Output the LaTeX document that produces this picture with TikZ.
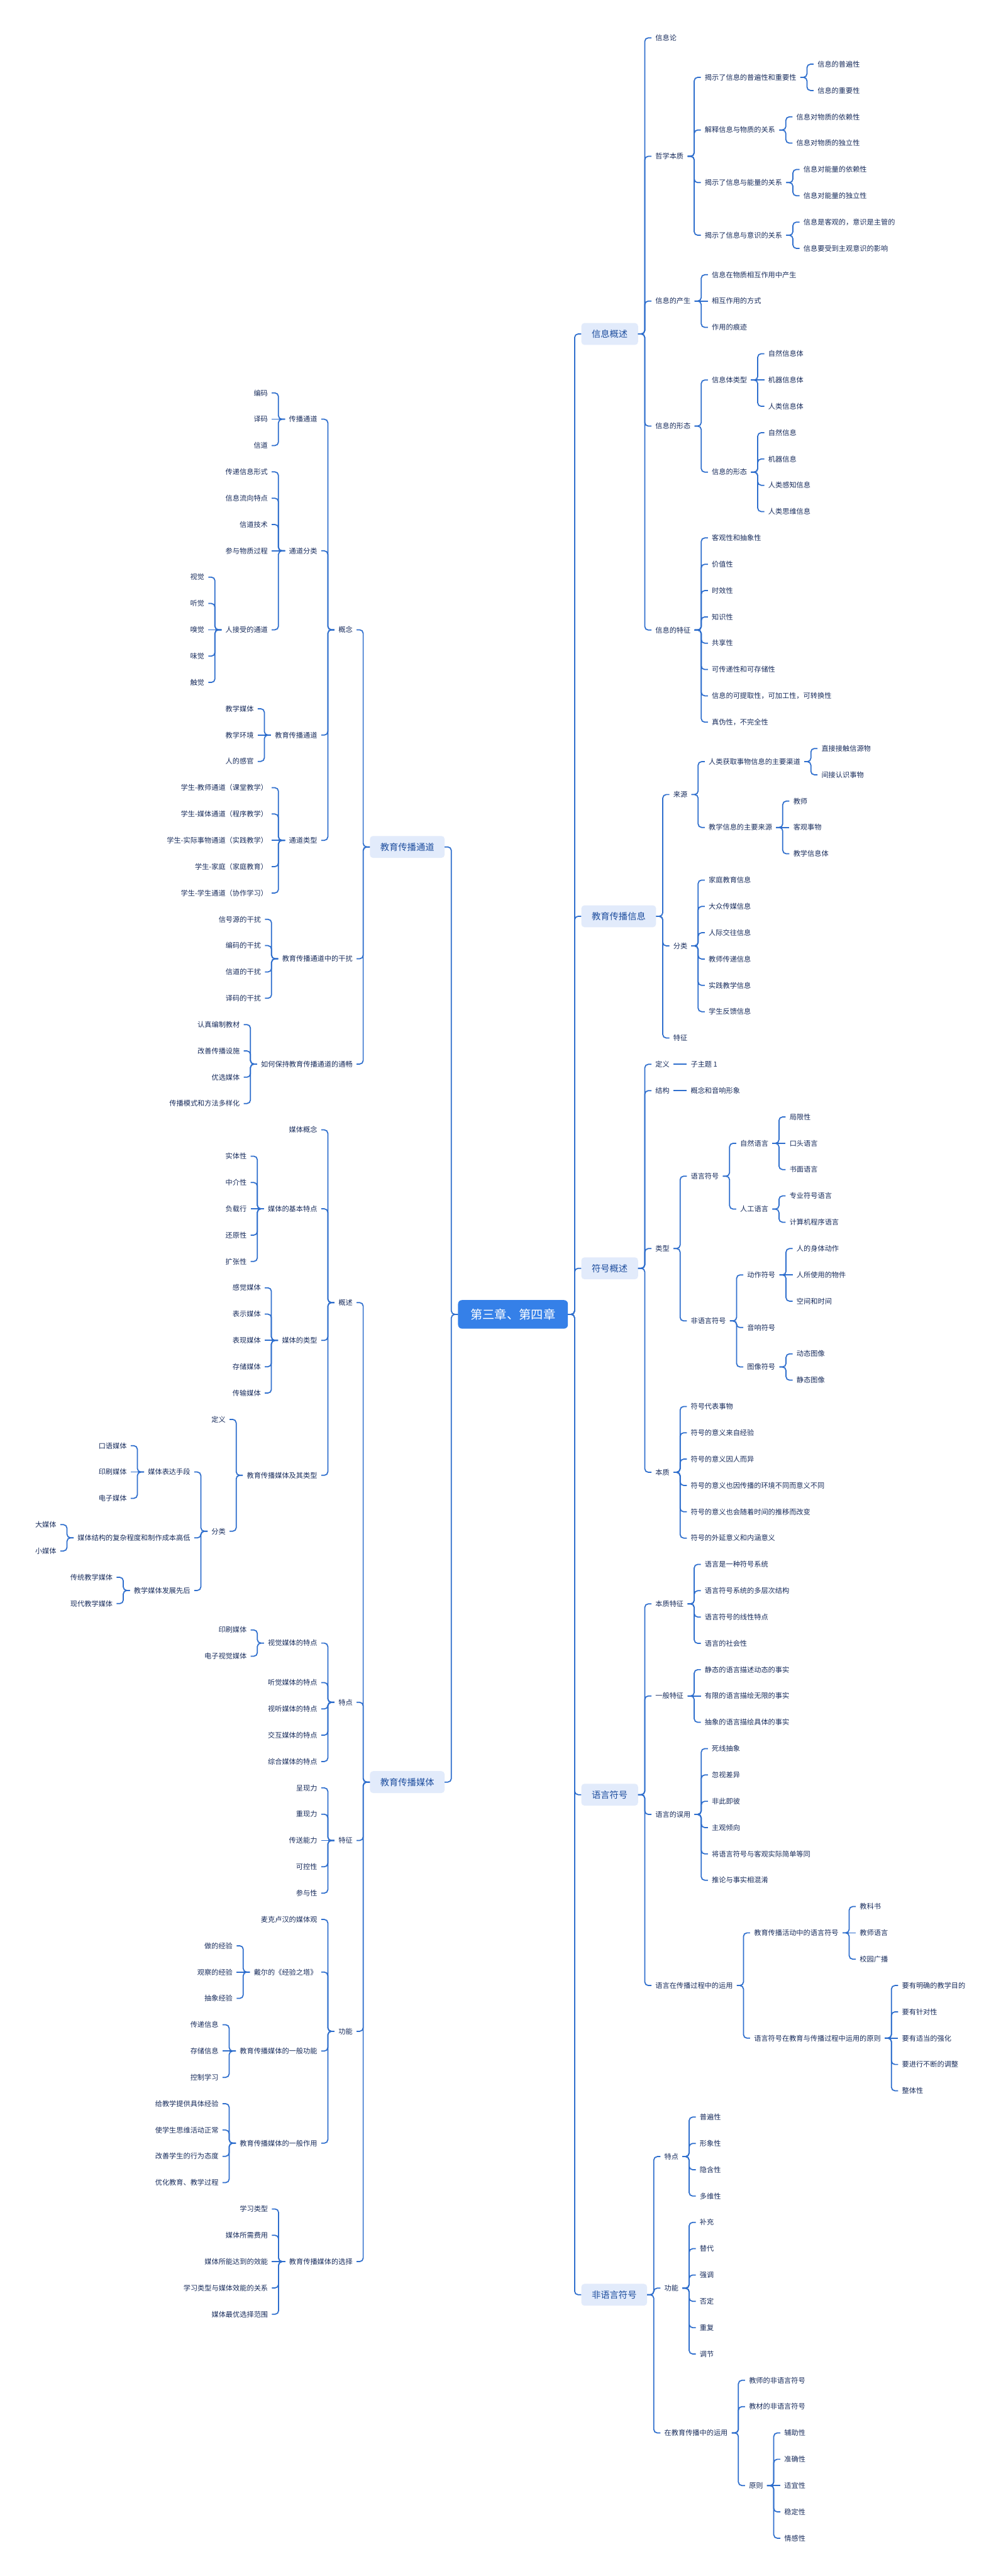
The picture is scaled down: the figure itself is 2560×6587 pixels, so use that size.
\documentclass[tikz,border=0pt]{standalone}
\usepackage{fontspec}
\setmainfont{Noto Sans CJK SC}
\usetikzlibrary{calc}
\definecolor{linkblue}{RGB}{46,110,205}
\definecolor{rootblue}{RGB}{53,128,232}
\definecolor{mainfill}{RGB}{226,235,251}
\definecolor{maintext}{RGB}{30,78,158}
\definecolor{leaftext}{RGB}{24,44,92}

% row positions (one row per leaf)
\newcommand\yr[1]{-(96.8+67.3*(#1))*1pt}
\newcommand\yl[1]{-(1004.7+67.3*(#1))*1pt}
% branch to the right / to the left of its parent
\newcommand\rb[5][leaf]{%
  \path let \p1=(#3.east) in node[#1, anchor=west] (#2) at (\x1+34pt, {\yr{#4}}) {#5};
  \draw[link] let \p1=(#3.east), \p2=(#2.west), \n1={min(9,abs((\y2)-(\y1))/2)} in
    [rounded corners=\n1] (\p1) -- ++(17pt,0pt) |- (\p2);}
\newcommand\lb[5][leaf]{%
  \path let \p1=(#3.west) in node[#1, anchor=east] (#2) at (\x1-34pt, {\yl{#4}}) {#5};
  \draw[link] let \p1=(#3.west), \p2=(#2.east), \n1={min(9,abs((\y2)-(\y1))/2)} in
    [rounded corners=\n1] (\p1) -- ++(-17pt,0pt) |- (\p2);}
% a run of leaves on consecutive rows
\newcommand\rleaves[3]{\foreach \nm [count=\idx from 0] in {#3} {\rb{#1-\idx}{#1}{#2+\idx}{\nm}}}
\newcommand\lleaves[3]{\foreach \nm [count=\idx from 0] in {#3} {\lb{#1-\idx}{#1}{#2+\idx}{\nm}}}

\begin{document}
\begin{tikzpicture}[
    leaf/.style={font=\fontsize{18pt}{22pt}\selectfont, text=leaftext, inner xsep=10pt, inner ysep=2pt, text height=14.4pt, text depth=0.7pt},
    mainbox/.style={font=\fontsize{23pt}{28pt}\selectfont, text=maintext, fill=mainfill, rounded corners=8pt, inner xsep=26.5pt, minimum height=56pt, text height=18.4pt, text depth=0.9pt},
    rootbox/.style={font=\fontsize{31pt}{36pt}\selectfont, text=white, fill=rootblue, rounded corners=10pt, inner xsep=32pt, minimum height=73pt, text height=24.8pt, text depth=1.2pt},
    link/.style={draw=linkblue, line width=2.8pt}
]
    \path[use as bounding box, fill=white] (0pt,0pt) rectangle (2560pt,-6587pt);

    % Centre topic
    \node[rootbox] (root) at (1312pt, {\yr{48.5}}) {第三章、第四章};

    % Right: 信息概述
    \rb[mainbox]{xx}{root}{11.25}{信息概述}
    \rb{xx1}{xx}{0}{信息论}
    \rb{xx2}{xx}{4.5}{哲学本质}
    \rb{xx21}{xx2}{1.5}{揭示了信息的普遍性和重要性}
    \rleaves{xx21}{1}{信息的普遍性,信息的重要性}
    \rb{xx22}{xx2}{3.5}{解释信息与物质的关系}
    \rleaves{xx22}{3}{信息对物质的依赖性,信息对物质的独立性}
    \rb{xx23}{xx2}{5.5}{揭示了信息与能量的关系}
    \rleaves{xx23}{5}{信息对能量的依赖性,信息对能量的独立性}
    \rb{xx24}{xx2}{7.5}{揭示了信息与意识的关系}
    \rleaves{xx24}{7}{信息是客观的，意识是主管的,信息要受到主观意识的影响}
    \rb{xx3}{xx}{10}{信息的产生}
    \rleaves{xx3}{9}{信息在物质相互作用中产生,相互作用的方式,作用的痕迹}
    \rb{xx4}{xx}{14.75}{信息的形态}
    \rb{xx41}{xx4}{13}{信息体类型}
    \rleaves{xx41}{12}{自然信息体,机器信息体,人类信息体}
    \rb{xx42}{xx4}{16.5}{信息的形态}
    \rleaves{xx42}{15}{自然信息,机器信息,人类感知信息,人类思维信息}
    \rb{xx5}{xx}{22.5}{信息的特征}
    \rleaves{xx5}{19}{客观性和抽象性,价值性,时效性,知识性,共享性,可传递性和可存储性,信息的可提取性，可加工性，可转换性,真伪性，不完全性}

    % Right: 教育传播信息
    \rb[mainbox]{jx}{root}{33.375}{教育传播信息}
    \rb{jx1}{jx}{28.75}{来源}
    \rb{jx11}{jx1}{27.5}{人类获取事物信息的主要渠道}
    \rleaves{jx11}{27}{直接接触信源物,间接认识事物}
    \rb{jx12}{jx1}{30}{教学信息的主要来源}
    \rleaves{jx12}{29}{教师,客观事物,教学信息体}
    \rb{jx2}{jx}{34.5}{分类}
    \rleaves{jx2}{32}{家庭教育信息,大众传媒信息,人际交往信息,教师传递信息,实践教学信息,学生反馈信息}
    \rb{jx3}{jx}{38}{特征}

    % Right: 符号概述
    \rb[mainbox]{fh}{root}{46.75}{符号概述}
    \rb{fh1}{fh}{39}{定义}
    \rb{fh11}{fh1}{39}{子主题 1}
    \rb{fh2}{fh}{40}{结构}
    \rb{fh21}{fh2}{40}{概念和音响形象}
    \rb{fh3}{fh}{46}{类型}
    \rb{fh31}{fh3}{43.25}{语言符号}
    \rb{fh311}{fh31}{42}{自然语言}
    \rleaves{fh311}{41}{局限性,口头语言,书面语言}
    \rb{fh312}{fh31}{44.5}{人工语言}
    \rleaves{fh312}{44}{专业符号语言,计算机程序语言}
    \rb{fh32}{fh3}{48.75}{非语言符号}
    \rb{fh321}{fh32}{47}{动作符号}
    \rleaves{fh321}{46}{人的身体动作,人所使用的物件,空间和时间}
    \rb{fh322}{fh32}{49}{音响符号}
    \rb{fh323}{fh32}{50.5}{图像符号}
    \rleaves{fh323}{50}{动态图像,静态图像}
    \rb{fh4}{fh}{54.5}{本质}
    \rleaves{fh4}{52}{符号代表事物,符号的意义来自经验,符号的意义因人而异,符号的意义也因传播的环境不同而意义不同,符号的意义也会随着时间的推移而改变,符号的外延意义和内涵意义}

    % Right: 语言符号
    \rb[mainbox]{yy}{root}{66.75}{语言符号}
    \rb{yy1}{yy}{59.5}{本质特征}
    \rleaves{yy1}{58}{语言是一种符号系统,语言符号系统的多层次结构,语言符号的线性特点,语言的社会性}
    \rb{yy2}{yy}{63}{一般特征}
    \rleaves{yy2}{62}{静态的语言描述动态的事实,有限的语言描绘无限的事实,抽象的语言描绘具体的事实}
    \rb{yy3}{yy}{67.5}{语言的误用}
    \rleaves{yy3}{65}{死线抽象,忽视差异,非此即彼,主观倾向,将语言符号与客观实际简单等同,推论与事实相混淆}
    \rb{yy4}{yy}{74}{语言在传播过程中的运用}
    \rb{yy41}{yy4}{72}{教育传播活动中的语言符号}
    \rleaves{yy41}{71}{教科书,教师语言,校园广播}
    \rb{yy42}{yy4}{76}{语言符号在教育与传播过程中运用的原则}
    \rleaves{yy42}{74}{要有明确的教学目的,要有针对性,要有适当的强化,要进行不断的调整,整体性}

    % Right: 非语言符号
    \rb[mainbox]{fy}{root}{85.75}{非语言符号}
    \rb{fy1}{fy}{80.5}{特点}
    \rleaves{fy1}{79}{普遍性,形象性,隐含性,多维性}
    \rb{fy2}{fy}{85.5}{功能}
    \rleaves{fy2}{83}{补充,替代,强调,否定,重复,调节}
    \rb{fy3}{fy}{91}{在教育传播中的运用}
    \rb{fy31}{fy3}{89}{教师的非语言符号}
    \rb{fy32}{fy3}{90}{教材的非语言符号}
    \rb{fy33}{fy3}{93}{原则}
    \rleaves{fy33}{91}{辅助性,准确性,适宜性,稳定性,情感性}

    % Left: 教育传播通道
    \lb[mainbox]{td}{root}{17.25}{教育传播通道}
    \lb{td1}{td}{9}{概念}
    \lb{td11}{td1}{1}{传播通道}
    \lleaves{td11}{0}{编码,译码,信道}
    \lb{td12}{td1}{6}{通道分类}
    \lleaves{td12}{3}{传递信息形式,信息流向特点,信道技术,参与物质过程}
    \lb{td125}{td12}{9}{人接受的通道}
    \lleaves{td125}{7}{视觉,听觉,嗅觉,味觉,触觉}
    \lb{td13}{td1}{13}{教育传播通道}
    \lleaves{td13}{12}{教学媒体,教学环境,人的感官}
    \lb{td14}{td1}{17}{通道类型}
    \lleaves{td14}{15}{学生-教师通道（课堂教学）,学生-媒体通道（程序教学）,学生-实际事物通道（实践教学）,学生-家庭（家庭教育）,学生-学生通道（协作学习）}
    \lb{td2}{td}{21.5}{教育传播通道中的干扰}
    \lleaves{td2}{20}{信号源的干扰,编码的干扰,信道的干扰,译码的干扰}
    \lb{td3}{td}{25.5}{如何保持教育传播通道的通畅}
    \lleaves{td3}{24}{认真编制教材,改善传播设施,优选媒体,传播模式和方法多样化}

    % Left: 教育传播媒体
    \lb[mainbox]{mt}{root}{52.78125}{教育传播媒体}
    \lb{mt1}{mt}{34.5625}{概述}
    \lb{mt11}{mt1}{28}{媒体概念}
    \lb{mt12}{mt1}{31}{媒体的基本特点}
    \lleaves{mt12}{29}{实体性,中介性,负载行,还原性,扩张性}
    \lb{mt13}{mt1}{36}{媒体的类型}
    \lleaves{mt13}{34}{感觉媒体,表示媒体,表现媒体,存储媒体,传输媒体}
    \lb{mt14}{mt1}{41.125}{教育传播媒体及其类型}
    \lb{mt141}{mt14}{39}{定义}
    \lb{mt142}{mt14}{43.25}{分类}
    \lb{mt1421}{mt142}{41}{媒体表达手段}
    \lleaves{mt1421}{40}{口语媒体,印刷媒体,电子媒体}
    \lb{mt1422}{mt142}{43.5}{媒体结构的复杂程度和制作成本高低}
    \lleaves{mt1422}{43}{大媒体,小媒体}
    \lb{mt1423}{mt142}{45.5}{教学媒体发展先后}
    \lleaves{mt1423}{45}{传统教学媒体,现代教学媒体}
    \lb{mt2}{mt}{49.75}{特点}
    \lb{mt21}{mt2}{47.5}{视觉媒体的特点}
    \lleaves{mt21}{47}{印刷媒体,电子视觉媒体}
    \lleaves{mt2}{49}{听觉媒体的特点,视听媒体的特点,交互媒体的特点,综合媒体的特点}
    \lb{mt3}{mt}{55}{特征}
    \lleaves{mt3}{53}{呈现力,重现力,传送能力,可控性,参与性}
    \lb{mt4}{mt}{62.25}{功能}
    \lb{mt41}{mt4}{58}{麦克卢汉的媒体观}
    \lb{mt42}{mt4}{60}{戴尔的《经验之塔》}
    \lleaves{mt42}{59}{做的经验,观察的经验,抽象经验}
    \lb{mt43}{mt4}{63}{教育传播媒体的一般功能}
    \lleaves{mt43}{62}{传递信息,存储信息,控制学习}
    \lb{mt44}{mt4}{66.5}{教育传播媒体的一般作用}
    \lleaves{mt44}{65}{给教学提供具体经验,使学生思维活动正常,改善学生的行为态度,优化教育、教学过程}
    \lb{mt5}{mt}{71}{教育传播媒体的选择}
    \lleaves{mt5}{69}{学习类型,媒体所需费用,媒体所能达到的效能,学习类型与媒体效能的关系,媒体最优选择范围}
\end{tikzpicture}
\end{document}
